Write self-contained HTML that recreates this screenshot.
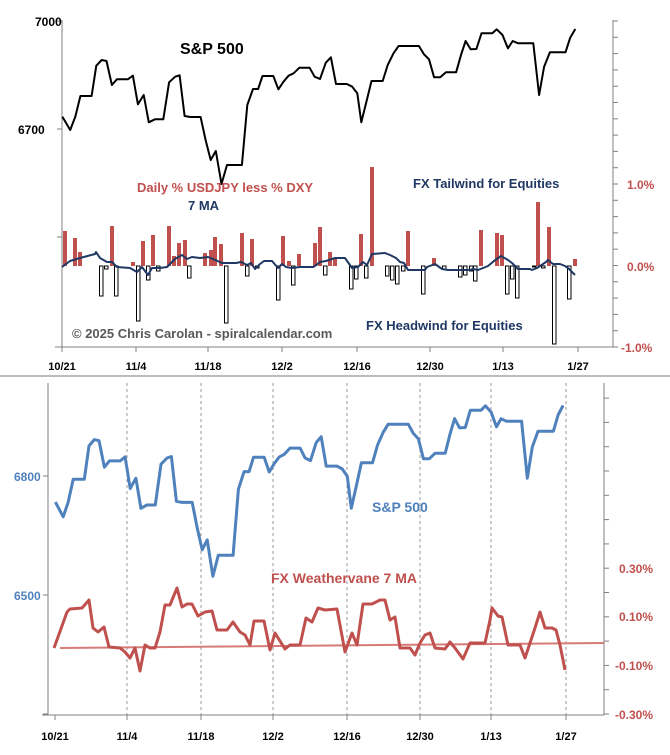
<!DOCTYPE html>
<html><head><meta charset="utf-8"><style>
html,body{margin:0;padding:0;background:#fff;}
svg{display:block;font-family:"Liberation Sans",sans-serif;}
.b{font-weight:bold;}
</style></head><body>
<svg id="s" width="670" height="755" xmlns="http://www.w3.org/2000/svg">
<rect width="670" height="755" fill="#fff"/>
<g id="g"></g>
<text x="35" y="26" font-size="12" class="b" fill="#000">7000</text>
<text x="18" y="134" font-size="12" class="b" fill="#000">6700</text>
<text x="180" y="54" font-size="16" class="b" fill="#000">S&amp;P 500</text>
<text x="137" y="192" font-size="13" class="b" fill="#c0504d">Daily % USDJPY less % DXY</text>
<text x="188" y="210" font-size="13" class="b" fill="#1f3864">7 MA</text>
<text x="413" y="188" font-size="13" class="b" fill="#1f3864">FX Tailwind for Equities</text>
<text x="366" y="330" font-size="13" class="b" fill="#1f3864">FX Headwind for Equities</text>
<text x="72" y="338" font-size="13" class="b" fill="#595959">© 2025 Chris Carolan - spiralcalendar.com</text>
<text x="627" y="189" font-size="12" class="b" fill="#c0504d">1.0%</text>
<text x="627" y="271" font-size="12" class="b" fill="#c0504d">0.0%</text>
<text x="621" y="352" font-size="12" class="b" fill="#c0504d">-1.0%</text>
<text x="14" y="481" font-size="12" class="b" fill="#4f81bd">6800</text>
<text x="14" y="600" font-size="12" class="b" fill="#4f81bd">6500</text>
<text x="372" y="512" font-size="14" class="b" fill="#4f81bd">S&amp;P 500</text>
<text x="271" y="583" font-size="14" class="b" fill="#c0504d">FX Weathervane 7 MA</text>
<text x="619" y="573" font-size="12" class="b" fill="#c0504d">0.30%</text>
<text x="619" y="621" font-size="12" class="b" fill="#c0504d">0.10%</text>
<text x="615" y="670" font-size="12" class="b" fill="#c0504d">-0.10%</text>
<text x="615" y="719" font-size="12" class="b" fill="#c0504d">-0.30%</text>
</svg>
<script>
(function(){
var NS="http://www.w3.org/2000/svg",G=document.getElementById("g");
function el(t,a){var e=document.createElementNS(NS,t);for(var k in a)e.setAttribute(k,a[k]);G.appendChild(e);return e;}
function txt(x,y,s,fs,col,anchor){var e=el("text",{x:x,y:y,"font-size":fs,"font-weight":"bold",fill:col,"text-anchor":anchor||"middle"});e.textContent=s;}
el("line",{x1:0,y1:376,x2:670,y2:376,stroke:"#a6a6a6","stroke-width":1.5});
el("line",{x1:62,y1:20,x2:62,y2:347,stroke:"#808080"});
el("line",{x1:55,y1:347,x2:613,y2:347,stroke:"#808080"});
el("line",{x1:613,y1:20,x2:613,y2:347,stroke:"#808080"});
[21,129,237].forEach(function(y){el("line",{x1:57,y1:y,x2:62,y2:y,stroke:"#808080"});});
for(var y=347;y>=20;y-=16.3){el("line",{x1:613,y1:y,x2:618,y2:y,stroke:"#808080"});}
var tl=["10/21","11/4","11/18","12/2","12/16","12/30","1/13","1/27"];
var tx=[62,136,208,282,357,430,503,578];
tx.forEach(function(x,i){el("line",{x1:x,y1:347,x2:x,y2:352,stroke:"#808080"});txt(x,370,tl[i],11,"#000");});
var red=[[63,231],[73,238],[78,252],[110,226],[131,262],[141,241],[151,235],[167,226],[172,256],[177,243],[183,240],[203,253],[209,250],[213,237],[219,244],[240,233],[250,239],[281,236],[287,261],[297,254],[313,243],[318,227],[328,252],[333,259],[359,234],[370,167],[406,231],[432,258],[479,230],[495,233],[500,235],[536,202],[547,227],[573,259]];
red.forEach(function(b){el("rect",{x:b[0],y:b[1],width:4,height:266-b[1],fill:"#c0504d"});});
var wh=[[99,296],[104,269],[114,296],[136,321],[146,280],[156,271],[187,278],[224,323],[245,276],[255,268],[276,300],[291,285],[323,275],[349,289],[354,279],[364,278],[385,276],[390,280],[395,284],[401,271],[421,294],[442,269],[458,277],[463,275],[469,271],[473,281],[505,294],[510,279],[515,298],[532,267],[541,268],[552,344],[567,299]];
wh.forEach(function(b){el("rect",{x:b[0]+0.5,y:266,width:3.5,height:b[1]-266,fill:"#fff",stroke:"#000","stroke-width":1});});
var ma=[[62,267],[70,261],[80,258],[95,254],[96,252],[100,258],[107,262],[112,262],[117,267],[130,268],[137,272],[142,267],[148,275],[152,268],[160,268],[167,267],[175,259],[182,255],[187,259],[192,257],[200,258],[208,257],[213,259],[222,263],[236,263],[241,262],[247,265],[251,263],[255,269],[260,264],[264,261],[272,261],[278,268],[282,264],[286,267],[292,268],[300,267],[313,267],[315,266],[320,262],[326,261],[335,258],[345,258],[352,268],[358,267],[363,262],[367,265],[372,254],[385,253],[390,255],[396,258],[400,262],[404,263],[408,270],[425,270],[427,267],[435,264],[442,269],[448,270],[458,270],[470,270],[473,269],[478,270],[488,266],[494,261],[501,256],[508,260],[512,263],[518,269],[530,269],[532,270],[537,268],[546,262],[548,260],[553,264],[560,264],[565,266],[568,268],[575,275]];
el("polyline",{points:ma.join(" "),fill:"none",stroke:"#1f3864","stroke-width":2,"stroke-linejoin":"round"});
var z=[[22,305],[45,345],[60,305],[75,243],[108,243],[122,152],[138,135],[152,138],[168,210],[183,193],[215,193],[230,182],[245,268],[262,240],[277,322],[295,313],[320,313],[337,202],[355,185],[368,181],[383,303],[400,306],[430,306],[445,375],[460,435],[475,408],[492,507],[508,450],[552,450],[568,270],[585,222],[600,222],[613,183],[645,183],[660,223],[675,200],[690,182],[705,175],[722,158],[752,158],[767,185],[783,192],[800,143],[815,127],[830,207],[862,207],[878,215],[893,235],[905,322],[920,260],[935,198],[968,198],[983,150],[1000,115],[1015,93],[1075,93],[1090,118],[1105,133],[1120,187],[1138,187],[1155,172],[1185,172],[1200,118],[1213,78],[1228,103],[1245,102],[1260,55],[1292,55],[1305,43],[1322,60],[1338,100],[1352,78],[1368,85],[1413,85],[1430,240],[1445,155],[1462,112],[1508,112],[1522,68],[1537,42]];
var tp=z.map(function(p){return [55+p[0]*0.3385,15+p[1]/3];});
el("polyline",{points:tp.map(function(p){return p[0].toFixed(1)+","+p[1].toFixed(1);}).join(" "),fill:"none",stroke:"#000","stroke-width":2,"stroke-linejoin":"round"});
el("line",{x1:48,y1:383,x2:48,y2:715,stroke:"#808080"});
el("line",{x1:42,y1:715,x2:604,y2:715,stroke:"#808080"});
el("line",{x1:604,y1:383,x2:604,y2:715,stroke:"#808080"});
[476,595,714].forEach(function(y){el("line",{x1:43,y1:y,x2:48,y2:y,stroke:"#808080"});});
for(var y2=714;y2>=383;y2-=24.3){el("line",{x1:604,y1:y2,x2:609,y2:y2,stroke:"#808080"});}
var bx=[55,127,201,273,347,420,491,566];
bx.forEach(function(x,i){el("line",{x1:x,y1:715,x2:x,y2:720,stroke:"#808080"});if(i>0)el("line",{x1:x,y1:383,x2:x,y2:715,stroke:"#808080","stroke-dasharray":"3,3","stroke-width":0.8});txt(x,740,tl[i],11,"#000");});
el("line",{x1:60,y1:648,x2:604,y2:643,stroke:"#d77b78","stroke-width":2});
var rl=[[54,648],[58,637],[67,612],[70,609],[82,608],[89,600],[93,628],[98,632],[104,627],[109,647],[120,648],[125,652],[130,658],[135,648],[140,671],[145,645],[150,648],[155,648],[160,632],[165,605],[170,605],[177,588],[182,607],[187,604],[192,604],[198,616],[205,612],[212,611],[217,630],[227,630],[233,622],[240,632],[245,635],[250,645],[254,621],[264,621],[270,650],[275,633],[285,649],[290,645],[300,645],[306,618],[312,622],[318,608],[325,610],[337,609],[345,652],[352,633],[357,645],[363,604],[372,604],[380,600],[385,600],[390,620],[395,617],[400,648],[410,648],[415,655],[420,643],[425,635],[430,633],[435,648],[445,649],[450,642],[455,648],[463,659],[470,643],[485,643],[490,620],[492,608],[498,616],[502,617],[508,645],[520,645],[525,658],[530,643],[535,628],[540,612],[545,628],[552,628],[556,630],[560,645],[565,670]];
el("polyline",{points:rl.join(" "),fill:"none",stroke:"#c0504d","stroke-width":3,"stroke-linejoin":"round"});
var bl=tp.map(function(p){var v=7000-(p[1]-21)/0.36;return [55+(p[0]-62)*0.990,476+(6800-v)*0.3967];});
el("polyline",{points:bl.map(function(p){return p[0].toFixed(1)+","+p[1].toFixed(1);}).join(" "),fill:"none",stroke:"#4f81bd","stroke-width":3,"stroke-linejoin":"round"});
})();
</script>
</body></html>
